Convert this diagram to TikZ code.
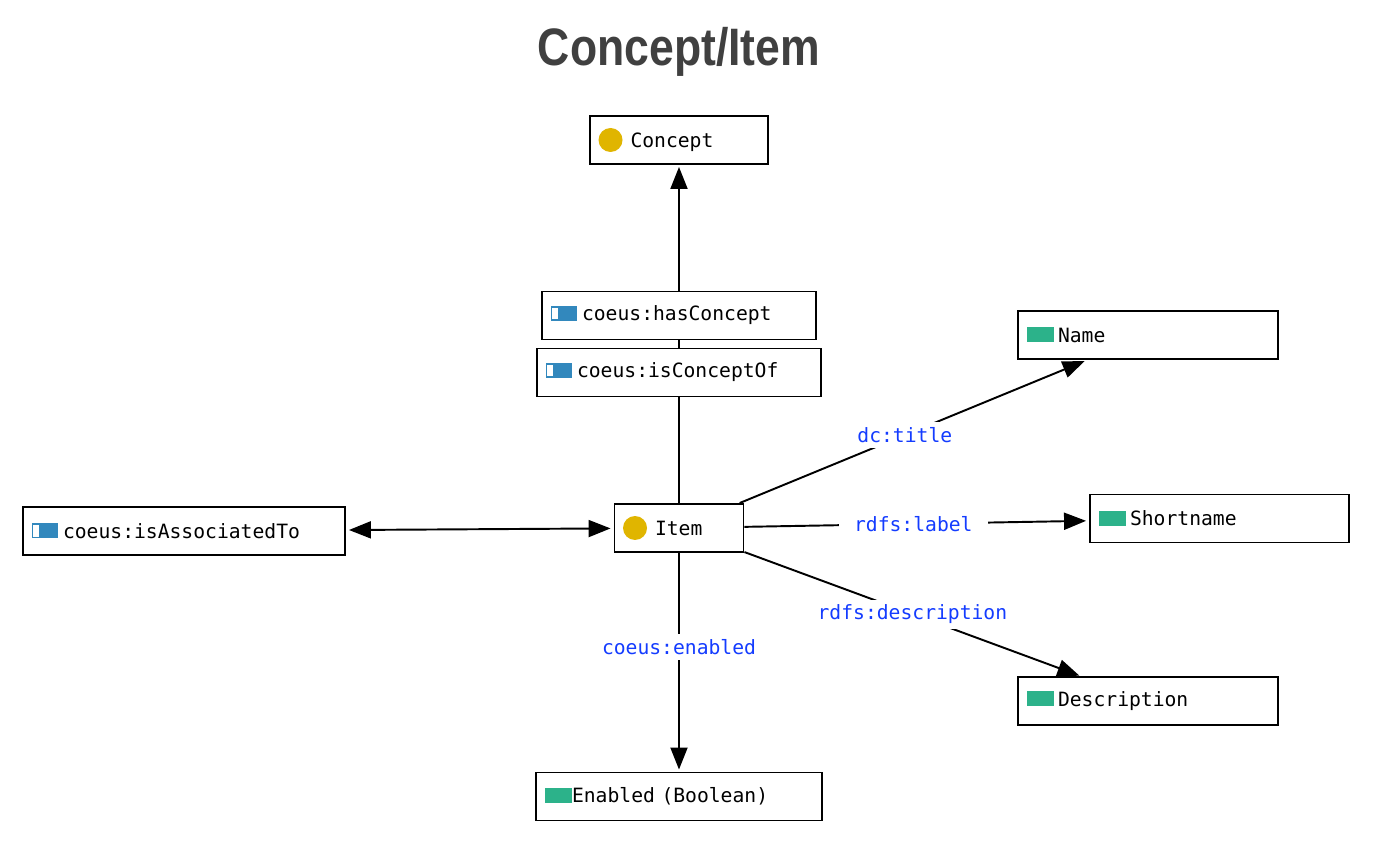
\documentclass[tikz,border=0pt]{standalone}
\usepackage{fontspec}
\setmonofont{DejaVu Sans Mono}
\newfontfamily\titlefont{Liberation Sans}
\usetikzlibrary{arrows.meta,positioning}

\definecolor{clsgold}{RGB}{224,181,0}
\definecolor{propblue}{RGB}{50,136,189}
\definecolor{datagreen}{RGB}{44,178,138}
\definecolor{lblblue}{RGB}{20,60,255}
\definecolor{titlegray}{RGB}{64,64,64}

% small markers in front of the names
\newcommand{\clsmark}{\tikz[baseline=-0.7ex]\fill[clsgold] (0.24cm,0cm) circle (0.24cm);\hspace{0.16cm}}
\newcommand{\propmark}{\tikz[baseline=-0.7ex]{\fill[propblue] (0cm,-0.15cm) rectangle (0.53cm,0.15cm);
  \fill[white] (0.035cm,-0.115cm) rectangle (0.15cm,0.115cm);}\hspace{0.1cm}}
\newcommand{\datamark}{\tikz[baseline=-0.7ex]\fill[datagreen] (0cm,-0.15cm) rectangle (0.55cm,0.15cm);}

\begin{document}
\begin{tikzpicture}[x=0.02cm, y=-0.02cm, ->, >={Triangle[length=0.44cm,width=0.34cm]}, line width=1.1pt]
\tikzset{every node/.style={font=\ttfamily\fontsize{11.2}{13}\selectfont},
  box/.style={draw=black, fill=white, line width=1.1pt, minimum height=0.96cm,
    inner xsep=0.17cm, align=left, text width=#1},
  lbl/.style={fill=white, text=lblblue, inner xsep=0.3cm, inner ysep=0.1cm}}
\useasboundingbox (0,0) rectangle (1373,844);

\node[font=\titlefont\bfseries\fontsize{30}{34}\selectfont, text=titlegray, xscale=0.845] (title) at (679,52) {Concept/Item};

\node[box=3.22cm] (concept) at (679,140) {\clsmark Concept};
\node[box=5.14cm] (hasconcept) at (679,315.5) {\propmark coeus:hasConcept};
\node[box=5.34cm] (isconceptof) at (679,372.5) {\propmark coeus:isConceptOf};
\node[box=2.24cm] (item) at (679,528) {\clsmark Item};
\node[box=6.10cm] (assoc) at (184,531) {\propmark coeus:isAssociatedTo};
\node[box=4.86cm] (name) at (1148,335) {\datamark\hspace{0.08cm}Name};
\node[box=4.84cm] (shortname) at (1219.5,518.5) {\datamark\hspace{0.08cm}Shortname};
\node[box=4.86cm] (description) at (1148,701) {\datamark\hspace{0.08cm}Description};
\node[box=5.38cm] (enabled) at (679,796.5) {\datamark Enabled (Boolean)};

\draw[-] (item) -- (isconceptof);
\draw[-] (isconceptof) -- (hasconcept);
\draw[shorten >=0.04cm] (hasconcept) -- (concept);
\draw[<->, shorten >=0.06cm, shorten <=0.06cm] (item) -- (assoc);
\draw[shorten >=0.06cm] (item) -- node[lbl, pos=0.475] (dctitle) {dc:title} (name);
\draw[shorten >=0.06cm] (item) -- node[lbl, pos=0.49] (rdfslabel) {rdfs:label} (shortname);
\draw[shorten >=0.02cm] (item) -- node[lbl, pos=0.5] (rdfsdesc) {rdfs:description} (description);
\draw[shorten >=0.04cm] (item) -- node[lbl, pos=0.43, inner xsep=0.08cm] (coeusen) {coeus:enabled} (enabled);
\end{tikzpicture}
\end{document}
